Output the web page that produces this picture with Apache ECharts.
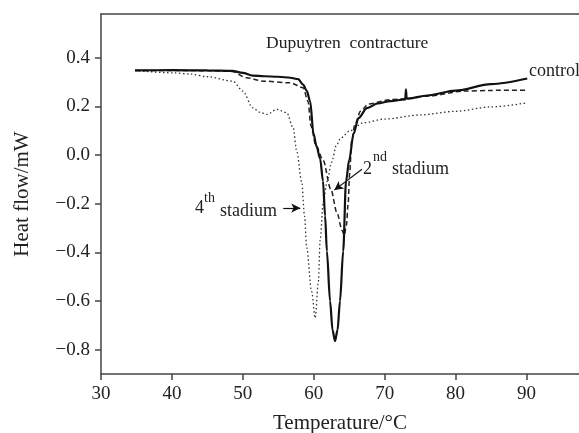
<!DOCTYPE html>
<html lang="en">
<head>
<meta charset="UTF-8">
<title>Dupuytren contracture DSC</title>
<style>
  html, body { margin: 0; padding: 0; background: #fff; }
  #chart { width: 579px; height: 433px; }
</style>
</head>
<body>
<div id="chart"></div>
<script src="https://cdn.jsdelivr.net/npm/echarts@6/dist/echarts.min.js"></script>
<script>
// tick labels
var xTicks = [30, 40, 50, 60, 70, 80, 90];
var yTicks = [-0.8, -0.6, -0.4, -0.2, 0.0, 0.2, 0.4];

// control (solid)
var controlT = [34.8, 40, 45, 48.5, 50.0, 51.4, 53.0, 55.0, 56.7, 57.8, 58.5, 59.0, 59.5, 59.95, 60.4, 60.9, 61.3, 61.6, 61.85, 62.3, 62.65, 63.0, 63.35, 63.7, 64.15, 64.55, 65.0, 65.6, 66.3, 67.5, 69.0, 70.8, 72.9, 73.0, 73.1, 76.0, 80.0, 85.0, 90.1];
var controlHF = [0.348, 0.349, 0.348, 0.346, 0.338, 0.327, 0.324, 0.322, 0.318, 0.312, 0.29, 0.265, 0.22, 0.09, 0.035, -0.015, -0.107, -0.25, -0.395, -0.6, -0.72, -0.765, -0.72, -0.6, -0.395, -0.107, -0.02, 0.086, 0.152, 0.193, 0.212, 0.222, 0.229, 0.27, 0.232, 0.245, 0.265, 0.292, 0.315];

// 2nd stadium (dashed)
var stad2T = [34.8, 40, 45, 48.5, 50.5, 52.9, 56.7, 58.5, 59.2, 59.6, 60.3, 61.3, 62.4, 63.3, 64.0, 64.3, 64.6, 64.85, 65.05, 65.35, 65.8, 66.6, 67.7, 70.8, 73.1, 76.4, 81, 85, 90.1];
var stad2HF = [0.348, 0.348, 0.347, 0.344, 0.318, 0.304, 0.297, 0.277, 0.22, 0.12, 0.04, -0.02, -0.14, -0.24, -0.31, -0.33, -0.29, -0.2, -0.08, 0.058, 0.126, 0.18, 0.21, 0.228, 0.232, 0.243, 0.263, 0.266, 0.267];

// 4th stadium (dotted)
var stad4T = [34.8, 40.2, 42.6, 45, 48.6, 50.0, 51.4, 52.5, 53.4, 54.8, 56.2, 57.1, 57.6, 58.3, 58.7, 59.0, 59.7, 60.2, 60.65, 60.9, 61.35, 61.9, 62.5, 63.2, 63.8, 65.1, 67.0, 70, 75, 80, 85, 90.1];
var stad4HF = [0.348, 0.338, 0.333, 0.322, 0.304, 0.263, 0.194, 0.175, 0.167, 0.188, 0.174, 0.112, 0.016, -0.11, -0.25, -0.38, -0.56, -0.67, -0.52, -0.35, -0.19, -0.107, -0.03, 0.04, 0.07, 0.1, 0.133, 0.148, 0.165, 0.18, 0.198, 0.215];

// annotation arrows [from, to] in data coords
var arrow4th = [[55.7, -0.218], [58.1, -0.218]];
var arrow2nd = [[66.8, -0.058], [62.9, -0.144]];

function pairs(xs, ys) {
    return xs.map(function (x, i) { return [x, ys[i]]; });
}

var serif = 'Liberation Serif';
var ink = '#222';
var axisCol = '#444';

function txt(str, x, y, size) {
    return {
        type: 'text', x: x, y: y, silent: true,
        style: { text: str, fill: ink, font: size + 'px "' + serif + '"', verticalAlign: 'middle', align: 'left' }
    };
}

var chart = echarts.init(document.getElementById('chart'));

var option = {
    animation: false,
    grid: { left: 101, top: 14, right: 0, bottom: 59, outerBoundsMode: 'none', containLabel: false },
    xAxis: [{
        type: 'value', min: 30, max: 97.4, interval: 10,
        name: 'Temperature/°C', nameLocation: 'middle', nameGap: 39,
        nameTextStyle: { fontFamily: serif, fontSize: 21, color: ink },
        splitLine: { show: false },
        axisLine: { onZero: false, lineStyle: { color: axisCol, width: 1.5 } },
        axisTick: { customValues: xTicks, length: 6, lineStyle: { color: axisCol, width: 1.5 } },
        axisLabel: { customValues: xTicks, margin: 11, fontFamily: serif, fontSize: 19, color: ink }
    }, {
        // top frame line only
        type: 'value', position: 'top', min: 30, max: 97.4,
        splitLine: { show: false },
        axisLine: { show: true, onZero: false, lineStyle: { color: axisCol, width: 1.5 } },
        axisTick: { show: false },
        axisLabel: { show: false }
    }],
    yAxis: {
        type: 'value', min: -0.9, max: 0.58,
        name: 'Heat flow/mW', nameLocation: 'middle', nameGap: 68,
        nameTextStyle: { fontFamily: serif, fontSize: 21, color: ink },
        splitLine: { show: false },
        axisLine: { show: true, onZero: false, lineStyle: { color: axisCol, width: 1.5 } },
        axisTick: { show: true, customValues: yTicks, length: 6, lineStyle: { color: axisCol, width: 1.5 } },
        axisLabel: {
            customValues: yTicks, margin: 11, fontFamily: serif, fontSize: 19, color: ink,
            formatter: function (v) {
                var a = Math.abs(v).toFixed(1);
                return (v < -1e-9 ? '\u2212' : '') + a;
            }
        }
    },
    series: [
        {
            name: 'control', type: 'line', data: pairs(controlT, controlHF),
            showSymbol: false, smooth: 0.3, smoothMonotone: 'x',
            lineStyle: { color: '#111', width: 2.2 }, z: 3,
            markLine: {
                silent: true, symbol: ['none', 'arrow'], symbolSize: [7, 9],
                label: { show: false },
                lineStyle: { color: '#111', width: 1.2, type: 'solid' },
                data: [
                    [{ coord: arrow4th[0] }, { coord: arrow4th[1] }],
                    [{ coord: arrow2nd[0] }, { coord: arrow2nd[1] }]
                ]
            }
        },
        {
            name: '2nd stadium', type: 'line', data: pairs(stad2T, stad2HF),
            showSymbol: false, smooth: 0.3, smoothMonotone: 'x',
            lineStyle: { color: '#222', width: 1.5, type: [5, 3] }, z: 2
        },
        {
            name: '4th stadium', type: 'line', data: pairs(stad4T, stad4HF),
            showSymbol: false, smooth: 0.3, smoothMonotone: 'x',
            lineStyle: { color: '#333', width: 1.3, type: [1.5, 2.5] }, z: 1
        }
    ],
    graphic: [
        txt('Dupuytren  contracture', 266, 43, 17.5),
        txt('control', 529, 71, 18),
        txt('4', 195, 208, 18),
        txt('th', 204, 198, 14),
        txt('stadium', 220, 211, 18),
        txt('2', 363, 169, 18),
        txt('nd', 373, 157, 14),
        txt('stadium', 392, 169, 18)
    ]
};

chart.setOption(option);
</script>
</body>
</html>
